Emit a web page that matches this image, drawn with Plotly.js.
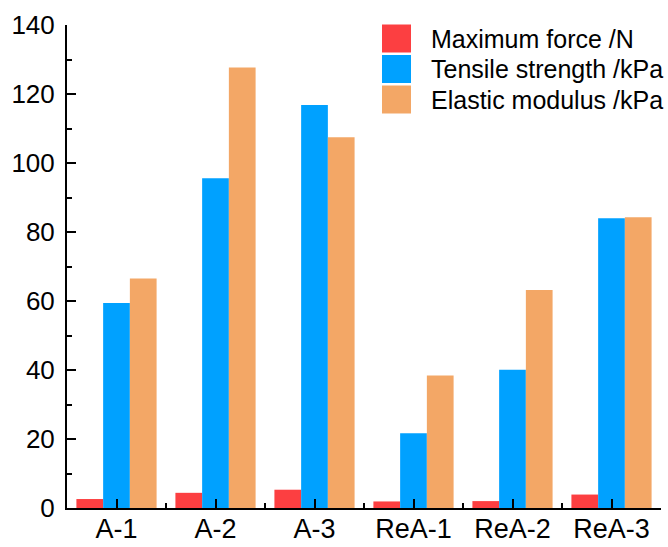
<!DOCTYPE html>
<html>
<head>
<meta charset="utf-8">
<script src="https://cdn.plot.ly/plotly-3.0.1.min.js"></script>
<style>html,body{margin:0;padding:0;background:#fff;}#chart{width:668px;height:547px;}</style>
</head>
<body>
<div id="chart"></div>
<script>
const categories = ["A-1", "A-2", "A-3", "ReA-1", "ReA-2", "ReA-3"];
const maximumForce = [2.6, 4.4, 5.3, 1.9, 2.0, 3.9];
const tensileStrength = [59.4, 95.6, 116.8, 21.7, 40.1, 84.0];
const elasticModulus = [66.5, 127.7, 107.5, 38.4, 63.2, 84.3];
const seriesNames = ["Maximum force /N", "Tensile strength /kPa", "Elastic modulus /kPa"];
const yTicks = [0, 20, 40, 60, 80, 100, 120, 140];

const colors = ["#FC3F41", "#00A1FF", "#F3A766"];
const seriesValues = [maximumForce, tensileStrength, elasticModulus];
const xIdx = categories.map((c, i) => i);
const FONT = "Liberation Sans, Arial, sans-serif";

const traces = seriesValues.map((vals, k) => ({
  type: "bar",
  x: xIdx,
  y: vals,
  name: seriesNames[k],
  marker: {color: colors[k], line: {width: 0}},
  showlegend: false,
  hoverinfo: "none"
}));

// plot area in pixels
const L = 67, R = 661, T = 25, B = 508;
const W = R - L, H = B - T;
const px = x => (x - L) / W;
const py = y => (B - y) / H;

const shapes = [];
const annotations = [];
const rowTops = [24.5, 55, 85.5];
const rowH = 28;
seriesNames.forEach((name, k) => {
  const top = rowTops[k];
  shapes.push({
    type: "rect", xref: "paper", yref: "paper",
    x0: px(382), x1: px(411), y0: py(top + rowH), y1: py(top),
    fillcolor: colors[k], line: {width: 0}
  });
  annotations.push({
    xref: "paper", yref: "paper",
    x: px(429), y: py(top + rowH / 2),
    xanchor: "left", yanchor: "middle",
    text: name, showarrow: false,
    font: {family: FONT, size: 25, color: "#000"}
  });
});

const layout = {
  width: 668, height: 547,
  margin: {l: L, r: 668 - R, t: T, b: 547 - B, pad: 0},
  paper_bgcolor: "#fff", plot_bgcolor: "#fff",
  barmode: "group", bargap: 0.19, bargroupgap: 0,
  font: {family: FONT, color: "#000"},
  xaxis: {
    range: [-0.5, 5.5], tickmode: "array", tickvals: xIdx, ticktext: categories,
    ticks: "inside", ticklen: 9, tickwidth: 2, tickcolor: "#000",
    showline: true, linewidth: 2, linecolor: "#000", mirror: false,
    showgrid: false, zeroline: false,
    tickfont: {family: FONT, size: 27, color: "#000"},
    ticklabelstandoff: -4,
    minor: {tick0: 0.5, dtick: 1, ticks: "inside", ticklen: 5, tickwidth: 2, tickcolor: "#000", showgrid: false}
  },
  yaxis: {
    range: [0, 140], tickmode: "array", tickvals: yTicks,
    ticks: "inside", ticklen: 9, tickwidth: 2, tickcolor: "#000",
    showline: true, linewidth: 2, linecolor: "#000",
    showgrid: false, zeroline: false,
    tickfont: {family: FONT, size: 26, color: "#000"},
    ticklabelstandoff: 5,
    minor: {tick0: 10, dtick: 20, ticks: "inside", ticklen: 5, tickwidth: 2, tickcolor: "#000", showgrid: false}
  },
  showlegend: false,
  shapes: shapes,
  annotations: annotations
};

Plotly.newPlot("chart", traces, layout, {displayModeBar: false, staticPlot: true});
</script>
</body>
</html>
